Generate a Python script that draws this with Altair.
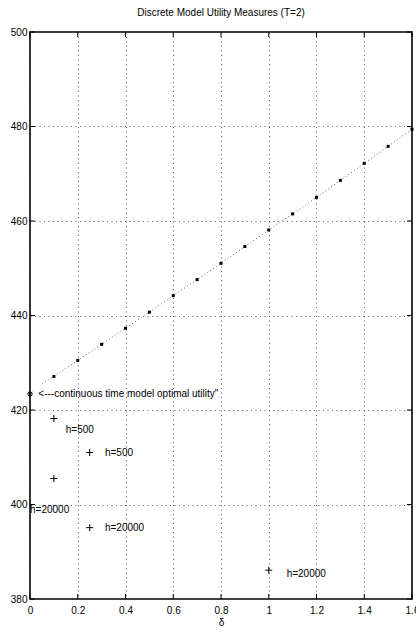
import altair as alt
import pandas as pd

# ---- data ----
delta = [0.1, 0.2, 0.3, 0.4, 0.5, 0.6, 0.7, 0.8, 0.9, 1.0, 1.1, 1.2, 1.3, 1.4, 1.5, 1.6]
utility = [427.1, 430.5, 433.9, 437.3, 440.7, 444.2, 447.6, 451.05, 454.6, 458.1,
           461.5, 465.0, 468.6, 472.2, 475.8, 479.4]
line_delta = [0.05] + delta
line_utility = [425.5] + utility

cont_delta = [0.0]
cont_utility = [423.4]

plus_delta = [0.1, 0.25, 0.1, 0.25, 1.0]
plus_utility = [418.2, 411.0, 405.5, 395.1, 386.1]

label_text = ["h=500", "h=500", "h=20000", "h=20000", "h=20000",
              "<---continuous time model optimal utility\""]
label_delta = [0.15, 0.314, 0.0, 0.314, 1.075, 0.035]
label_utility = [415.8, 411.0, 398.8, 395.1, 385.3, 423.4]

x_ticks = [0, 0.2, 0.4, 0.6, 0.8, 1.0, 1.2, 1.4, 1.6]
y_ticks = [380, 400, 420, 440, 460, 480, 500]

FONT = "Liberation Sans"
FS = 10
W, H = 382, 567

xs = alt.Scale(domain=[0, 1.6], nice=False, zero=False)
ys = alt.Scale(domain=[380, 500], nice=False, zero=False)

dots_df = pd.DataFrame({"d": delta, "u": utility})
line_df = pd.DataFrame({"d": line_delta, "u": line_utility})
cont_df = pd.DataFrame({"d": cont_delta, "u": cont_utility})
plus_df = pd.DataFrame({"d": plus_delta, "u": plus_utility})
lab_df = pd.DataFrame({"d": label_delta, "u": label_utility, "t": label_text})
xt_df = pd.DataFrame({"d": x_ticks})
yt_df = pd.DataFrame({"u": y_ticks})

xaxis = alt.Axis(values=x_ticks, title="δ", grid=True, gridDash=[1, 3.5], gridColor="#444",
                 gridOpacity=0.85, tickSize=0, domain=False, labelFont=FONT, labelFontSize=FS,
                 labelPadding=6, titleFont=FONT, titleFontSize=FS, titleFontWeight="normal",
                 titlePadding=2, labelColor="black", titleColor="black", labelFlush=False,
                 labelExpr="datum.value == 1 ? '1' : (datum.value == 0 ? '0' : format(datum.value, '.1f'))")
yaxis = alt.Axis(values=y_ticks, title=None, grid=True, gridDash=[1, 3.5], gridColor="#444",
                 gridOpacity=0.85, tickSize=0, domain=False, labelFont=FONT, labelFontSize=FS,
                 labelPadding=3, labelColor="black")

X = alt.X("d:Q", scale=xs, axis=xaxis)
Y = alt.Y("u:Q", scale=ys, axis=yaxis)

line = alt.Chart(line_df).mark_line(color="#666", strokeDash=[1, 2.5], strokeWidth=1).encode(x=X, y=Y)

dots = alt.Chart(dots_df).mark_point(shape="square", filled=True, color="black", size=9,
                                     opacity=1).encode(x=X, y=Y)

plus_path = "M-1,0L1,0M0,-1L0,1"
pluses = alt.Chart(plus_df).mark_point(shape=plus_path, filled=False, color="black",
                                       strokeWidth=1, size=49, opacity=1).encode(x=X, y=Y)

star_path = "M-1,0L1,0M0,-1L0,1M-0.7,-0.7L0.7,0.7M-0.7,0.7L0.7,-0.7"
star = alt.Chart(cont_df).mark_point(shape=star_path, filled=False, color="black",
                                     strokeWidth=1, size=36, opacity=1).encode(x=X, y=Y)

labels = alt.Chart(lab_df).mark_text(align="left", baseline="middle", font=FONT,
                                     fontSize=FS, color="black").encode(x=X, y=Y, text="t:N")

tick_b = alt.Chart(xt_df).mark_rule(color="black", strokeWidth=1).encode(
    x=X, y=alt.value(H), y2=alt.value(H - 5))
tick_t = alt.Chart(xt_df).mark_rule(color="black", strokeWidth=1).encode(
    x=X, y=alt.value(0), y2=alt.value(5))
tick_l = alt.Chart(yt_df).mark_rule(color="black", strokeWidth=1).encode(
    y=Y, x=alt.value(0), x2=alt.value(5))
tick_r = alt.Chart(yt_df).mark_rule(color="black", strokeWidth=1).encode(
    y=Y, x=alt.value(W), x2=alt.value(W - 5))

chart = alt.layer(line, dots, pluses, star, labels, tick_b, tick_t, tick_l, tick_r).properties(
    width=W, height=H,
    background="white",
    title=alt.TitleParams("Discrete Model Utility Measures (T=2)", font=FONT, fontSize=FS,
                          fontWeight="normal", color="black", offset=9, anchor="middle"),
    autosize=alt.AutoSizeParams(type="none"),
    padding={"left": 30, "top": 32, "right": 4, "bottom": 36},
).configure_view(stroke="black", strokeWidth=1.6)

chart.save("out.html", embed_options={"renderer": "svg", "actions": False})
